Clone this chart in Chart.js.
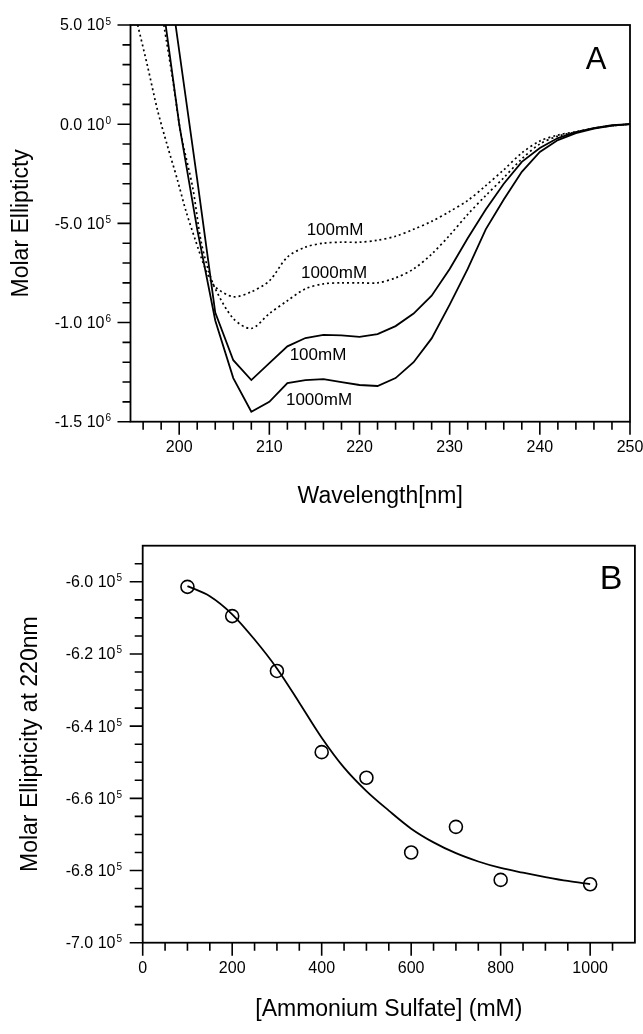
<!DOCTYPE html>
<html>
<head>
<meta charset="utf-8">
<script src="https://cdn.jsdelivr.net/npm/chart.js@4.4.1/dist/chart.umd.min.js"></script>
<style>
  html, body { margin: 0; padding: 0; background: #fff; }
  #wrap { position: relative; width: 643px; height: 1034px; }
  canvas { position: absolute; left: 0; }
  #chartA { top: 0; }
  #chartB { top: 530px; }
</style>
</head>
<body>
<div id="wrap">
  <canvas id="chartA" width="643" height="530"></canvas>
  <canvas id="chartB" width="643" height="504"></canvas>
</div>
<script>
// ---- Panel A: CD spectra (wavelength in nm, molar ellipticity) ----
const solid100Wl = [199.6, 202, 204, 206, 208, 210, 212, 214, 216, 218, 220, 222, 224, 226, 228, 230, 232, 234, 236, 238, 240, 242, 244, 246, 248, 250];
const solid100Cd = [5e5, -2.8e5, -9.5e5, -1.19e6, -1.29e6, -1.205e6, -1.12e6, -1.078e6, -1.062e6, -1.065e6, -1.072e6, -1.058e6, -1.018e6, -9.55e5, -8.65e5, -7.3e5, -5.75e5, -4.3e5, -3.0e5, -1.9e5, -1.2e5, -7e4, -4e4, -2e4, -5e3, 0];

const solid1000Wl = [198.5, 200, 202, 204, 206, 208, 210, 212, 214, 216, 218, 220, 222, 224, 226, 228, 230, 232, 234, 236, 238, 240, 242, 244, 246, 248, 250];
const solid1000Cd = [5e5, 0, -5.3e5, -9.9e5, -1.28e6, -1.45e6, -1.40e6, -1.305e6, -1.29e6, -1.285e6, -1.30e6, -1.315e6, -1.32e6, -1.28e6, -1.20e6, -1.08e6, -9.1e5, -7.3e5, -5.3e5, -3.8e5, -2.4e5, -1.4e5, -8e4, -4.5e4, -2.2e4, -7e3, 0];

const dot100Wl = [195.4, 196.5, 197.6, 198.7, 199.8, 200.7, 201.8, 203, 204, 206, 208, 210, 212, 214, 216, 218, 220, 222, 224, 226, 228, 230, 232, 234, 236, 238, 240, 242, 244, 246, 248, 250];
const dot100Cd = [5e5, 2.9e5, 0.7e5, -1.1e5, -2.8e5, -4.3e5, -5.85e5, -7.4e5, -8.2e5, -8.7e5, -8.45e5, -7.9e5, -6.7e5, -6.2e5, -6.0e5, -5.95e5, -5.95e5, -5.85e5, -5.65e5, -5.3e5, -4.9e5, -4.4e5, -3.85e5, -3.1e5, -2.3e5, -1.45e5, -8.5e4, -5.5e4, -3.8e4, -2e4, -8e3, 0];

const dot1000Wl = [198.3, 199.3, 200.2, 201.5, 202.4, 203.2, 204, 206, 208, 210, 212, 214, 216, 218, 220, 222, 224, 226, 228, 230, 232, 234, 236, 238, 240, 242, 244, 246, 248, 250];
const dot1000Cd = [5e5, 2.2e5, -0.5e5, -3.2e5, -5.85e5, -7.3e5, -8.3e5, -9.8e5, -1.03e6, -9.55e5, -8.9e5, -8.3e5, -8.05e5, -8.0e5, -8.0e5, -8.0e5, -7.75e5, -7.3e5, -6.55e5, -5.6e5, -4.55e5, -3.6e5, -2.7e5, -1.75e5, -1.0e5, -6e4, -4e4, -2e4, -8e3, 0];

const aXMajor = [200, 210, 220, 230, 240, 250];
const aXMinor = [196, 198, 202, 204, 206, 208, 212, 214, 216, 218, 222, 224, 226, 228, 232, 234, 236, 238, 242, 244, 246, 248];
const aYMajor = [5e5, 0, -5e5, -1e6, -1.5e6];
const aYLabels = [['5.0 10', '5'], ['0.0 10', '0'], ['-5.0 10', '5'], ['-1.0 10', '6'], ['-1.5 10', '6']];
const aYMinor = [4e5, 3e5, 2e5, 1e5, -1e5, -2e5, -3e5, -4e5, -6e5, -7e5, -8e5, -9e5, -1.1e6, -1.2e6, -1.3e6, -1.4e6];

// ---- Panel B: ellipticity at 220 nm vs ammonium sulfate ----
const sulfateConc = [100, 200, 300, 400, 500, 600, 700, 800, 1000];
const ellip220 = [-6.014e5, -6.095e5, -6.247e5, -6.472e5, -6.543e5, -6.750e5, -6.679e5, -6.826e5, -6.838e5];
const fitConc = [100, 150, 200, 250, 300, 350, 400, 450, 500, 550, 600, 650, 700, 750, 800, 850, 900, 950, 1000];
const fitEllip = [-6.012e5, -6.040e5, -6.090e5, -6.160e5, -6.240e5, -6.335e5, -6.432e5, -6.515e5, -6.580e5, -6.634e5, -6.684e5, -6.722e5, -6.752e5, -6.775e5, -6.793e5, -6.806e5, -6.818e5, -6.829e5, -6.838e5];

const bXMajor = [0, 200, 400, 600, 800, 1000];
const bXMinor = [50, 100, 150, 250, 300, 350, 450, 500, 550, 650, 700, 750, 850, 900, 950, 1050];
const bYMajor = [-6.0e5, -6.2e5, -6.4e5, -6.6e5, -6.8e5, -7.0e5];
const bYLabels = [['-6.0 10', '5'], ['-6.2 10', '5'], ['-6.4 10', '5'], ['-6.6 10', '5'], ['-6.8 10', '5'], ['-7.0 10', '5']];
const bYMinor = [-5.95e5, -6.05e5, -6.1e5, -6.15e5, -6.25e5, -6.3e5, -6.35e5, -6.45e5, -6.5e5, -6.55e5, -6.65e5, -6.7e5, -6.75e5, -6.85e5, -6.9e5, -6.95e5];

const FONT = "'Liberation Sans', Arial, Helvetica, sans-serif";

function pairs(xs, ys) {
    return xs.map((x, i) => ({ x: x, y: ys[i] }));
}

// draws frame, outward ticks, tick labels with superscript exponents and text annotations
const paperAxes = {
    id: 'paperAxes',
    afterDatasetsDraw(chart, args, o) {
        const ctx = chart.ctx;
        const a = chart.chartArea;
        const xs = chart.scales.x, ys = chart.scales.y;
        ctx.save();
        ctx.strokeStyle = '#000';
        ctx.fillStyle = '#000';
        ctx.lineWidth = 1.8;
        ctx.strokeRect(a.left, a.top, a.right - a.left, a.bottom - a.top);

        ctx.lineWidth = 1.6;
        ctx.beginPath();
        o.xMajor.forEach(v => { const p = xs.getPixelForValue(v); ctx.moveTo(p, a.bottom); ctx.lineTo(p, a.bottom + 13); });
        o.xMinor.forEach(v => { const p = xs.getPixelForValue(v); ctx.moveTo(p, a.bottom); ctx.lineTo(p, a.bottom + 8); });
        o.yMajor.forEach(v => { const p = ys.getPixelForValue(v); ctx.moveTo(a.left, p); ctx.lineTo(a.left - 13, p); });
        o.yMinor.forEach(v => { const p = ys.getPixelForValue(v); ctx.moveTo(a.left, p); ctx.lineTo(a.left - 8, p); });
        ctx.stroke();

        // x tick labels
        ctx.font = '16px ' + FONT;
        ctx.textAlign = 'center';
        ctx.textBaseline = 'middle';
        o.xMajor.forEach(v => ctx.fillText(String(v), xs.getPixelForValue(v), a.bottom + 26));

        // y tick labels "m.m 10^e"
        const right = a.left - o.yLabelGap;
        o.yMajor.forEach((v, i) => {
            const p = ys.getPixelForValue(v);
            const [main, sup] = o.yLabels[i];
            ctx.font = '10px ' + FONT;
            const sw = ctx.measureText(sup).width;
            ctx.textAlign = 'right';
            ctx.textBaseline = 'alphabetic';
            ctx.fillText(sup, right, p - 0.5);
            ctx.font = '16px ' + FONT;
            ctx.textBaseline = 'middle';
            ctx.fillText(main, right - sw - 1, p + 1);
        });

        // axis titles
        ctx.font = '23px ' + FONT;
        ctx.textAlign = 'center';
        ctx.textBaseline = 'middle';
        ctx.fillText(o.xTitle, (a.left + a.right) / 2, o.xTitleY);
        ctx.save();
        ctx.translate(o.yTitleX, (a.top + a.bottom) / 2);
        ctx.rotate(-Math.PI / 2);
        ctx.fillText(o.yTitle, 0, 0);
        ctx.restore();

        // panel letter
        ctx.font = o.letterSize + 'px ' + FONT;
        ctx.fillText(o.letter, o.letterX, o.letterY);

        // curve labels
        ctx.font = '17px ' + FONT;
        (o.notes || []).forEach(n => ctx.fillText(n.text, n.x, n.y));
        ctx.restore();
    }
};

const hidden = { display: false };

new Chart(document.getElementById('chartA').getContext('2d'), {
    type: 'line',
    data: {
        datasets: [
            { data: pairs(dot100Wl, dot100Cd), borderColor: '#000', borderWidth: 1.7, borderDash: [2, 3], pointRadius: 0, tension: 0.3 },
            { data: pairs(dot1000Wl, dot1000Cd), borderColor: '#000', borderWidth: 1.7, borderDash: [2, 3], pointRadius: 0, tension: 0.3 },
            { data: pairs(solid100Wl, solid100Cd), borderColor: '#000', borderWidth: 1.8, pointRadius: 0, tension: 0 },
            { data: pairs(solid1000Wl, solid1000Cd), borderColor: '#000', borderWidth: 1.8, pointRadius: 0, tension: 0 }
        ]
    },
    options: {
        responsive: false,
        animation: false,
        devicePixelRatio: 1,
        layout: { padding: { left: 130.5, top: 25, right: 13, bottom: 108.3 } },
        scales: {
            x: Object.assign({ type: 'linear', min: 194.6, max: 250 }, hidden),
            y: Object.assign({ type: 'linear', min: -1.5e6, max: 5e5 }, hidden)
        },
        plugins: {
            legend: { display: false },
            tooltip: { enabled: false },
            paperAxes: {
                xMajor: aXMajor, xMinor: aXMinor, yMajor: aYMajor, yMinor: aYMinor, yLabels: aYLabels,
                yLabelGap: 19.5,
                xTitle: 'Wavelength[nm]', xTitleY: 497,
                yTitle: 'Molar Ellipticty', yTitleX: 22,
                letter: 'A', letterSize: 31, letterX: 596, letterY: 60,
                notes: [
                    { text: '100mM', x: 335, y: 230 },
                    { text: '1000mM', x: 334, y: 273 },
                    { text: '100mM', x: 318, y: 355 },
                    { text: '1000mM', x: 319, y: 400 }
                ]
            }
        }
    },
    plugins: [paperAxes]
});

new Chart(document.getElementById('chartB').getContext('2d'), {
    type: 'line',
    data: {
        datasets: [
            { data: pairs(fitConc, fitEllip), borderColor: '#000', borderWidth: 1.8, pointRadius: 0, cubicInterpolationMode: 'monotone' },
            { data: pairs(sulfateConc, ellip220), showLine: false, borderColor: '#000', backgroundColor: 'rgba(0,0,0,0)', pointRadius: 6.5, pointBorderWidth: 1.6, pointBackgroundColor: 'rgba(0,0,0,0)', pointBorderColor: '#000' }
        ]
    },
    options: {
        responsive: false,
        animation: false,
        devicePixelRatio: 1,
        layout: { padding: { left: 142.7, top: 15.7, right: 3.7, bottom: 91.3 } },
        scales: {
            x: Object.assign({ type: 'linear', min: 0, max: 1100 }, hidden),
            y: Object.assign({ type: 'linear', min: -7.0e5, max: -5.9e5 }, hidden)
        },
        plugins: {
            legend: { display: false },
            tooltip: { enabled: false },
            paperAxes: {
                xMajor: bXMajor, xMinor: bXMinor, yMajor: bYMajor, yMinor: bYMinor, yLabels: bYLabels,
                yLabelGap: 20.7,
                xTitle: '[Ammonium Sulfate] (mM)', xTitleY: 480,
                yTitle: 'Molar Ellipticity at 220nm', yTitleX: 31,
                letter: 'B', letterSize: 34, letterX: 611, letterY: 50,
                notes: []
            }
        }
    },
    plugins: [paperAxes]
});
</script>
</body>
</html>
